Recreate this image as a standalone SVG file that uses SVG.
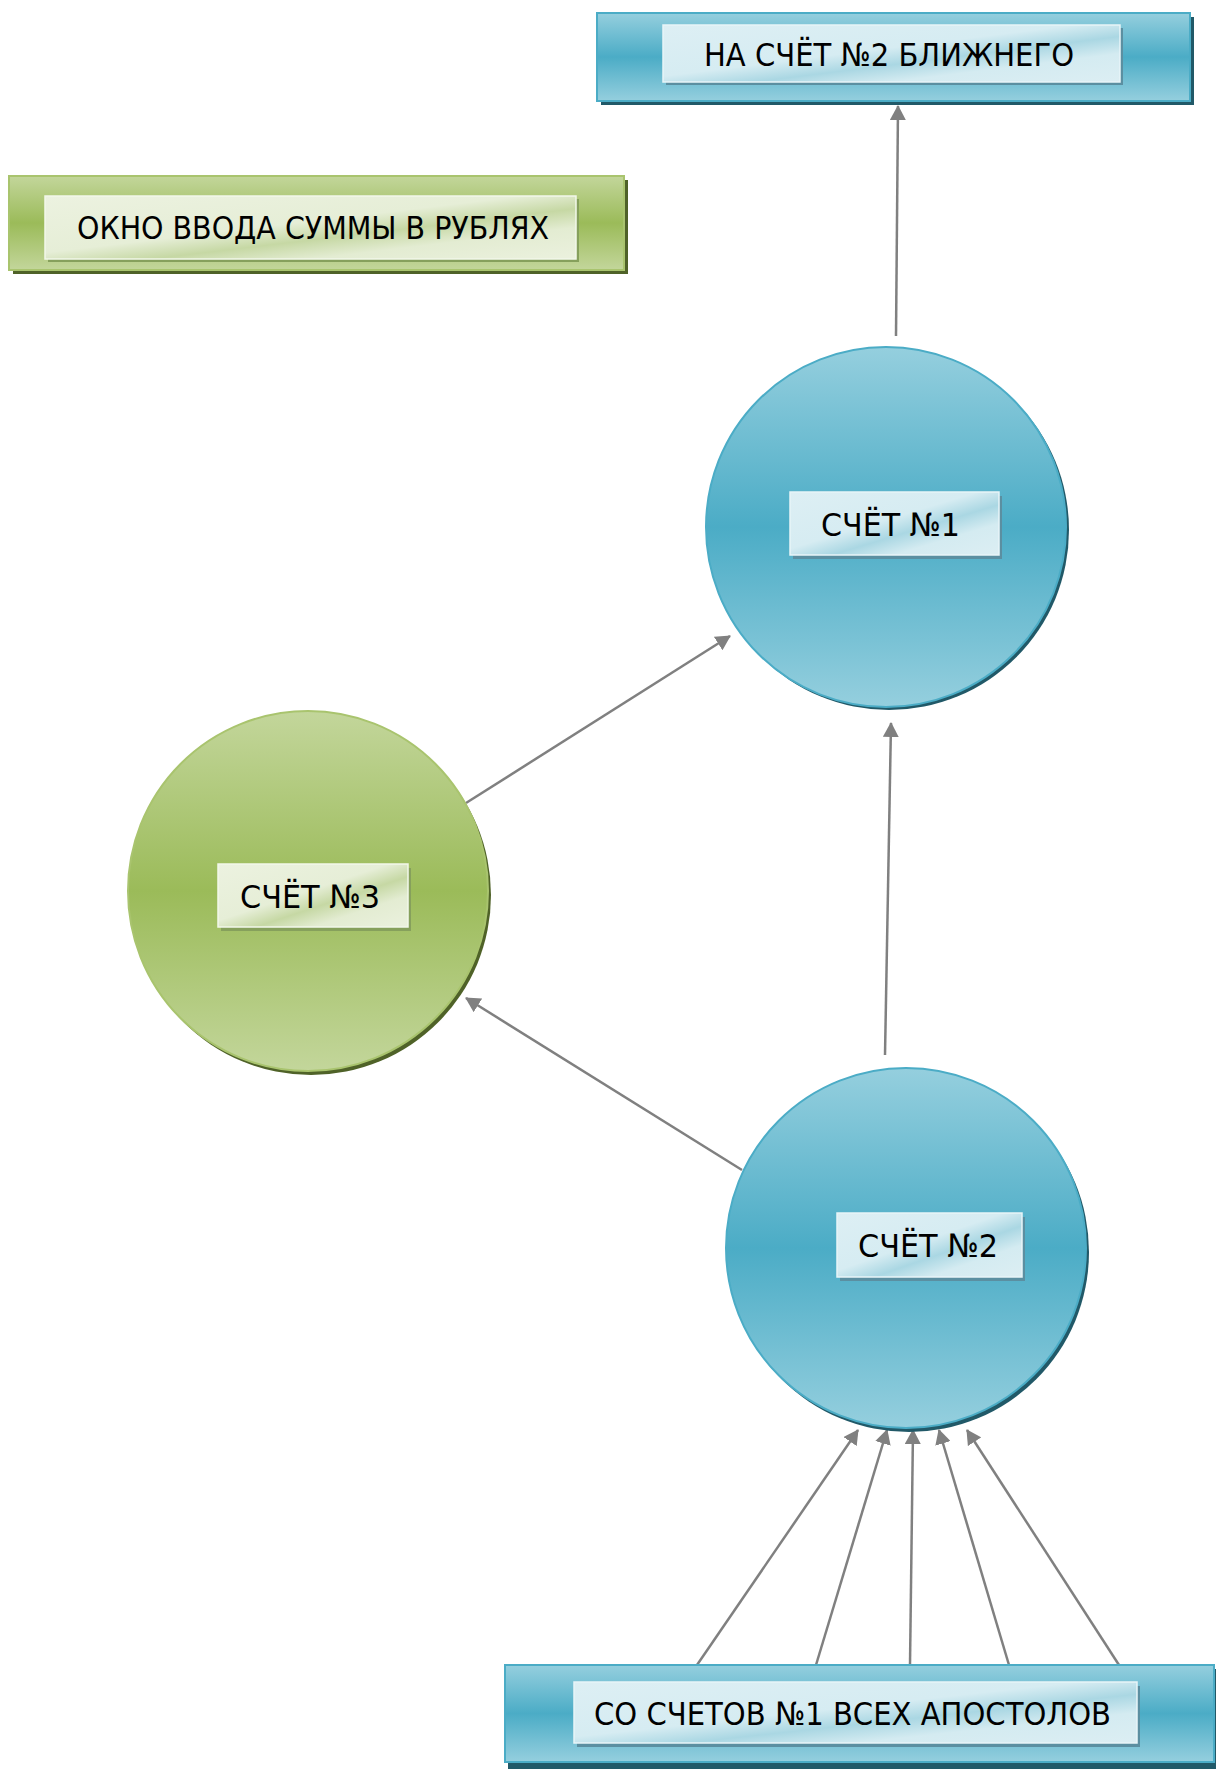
<svg xmlns="http://www.w3.org/2000/svg" width="1216" height="1769" viewBox="0 0 1216 1769">
<defs>
<linearGradient id="blueV" x1="0" y1="0" x2="0" y2="1">
<stop offset="0" stop-color="#95CFDE"/><stop offset="0.5" stop-color="#4BACC6"/><stop offset="1" stop-color="#95CFDE"/>
</linearGradient>
<linearGradient id="greenV" x1="0" y1="0" x2="0" y2="1">
<stop offset="0" stop-color="#C3D69B"/><stop offset="0.5" stop-color="#9BBB59"/><stop offset="1" stop-color="#C3D69B"/>
</linearGradient>
<linearGradient id="blueIn" x1="0" y1="0" x2="1" y2="1">
<stop offset="0" stop-color="#DDEFF4"/><stop offset="0.45" stop-color="#D6ECF2"/><stop offset="0.6" stop-color="#AAD7E3"/><stop offset="0.75" stop-color="#D4EBF1"/><stop offset="1" stop-color="#DCEEF3"/>
</linearGradient>
<linearGradient id="greenIn" x1="0" y1="0" x2="1" y2="1">
<stop offset="0" stop-color="#ECF2E0"/><stop offset="0.45" stop-color="#E6EED7"/><stop offset="0.6" stop-color="#C6D8A4"/><stop offset="0.75" stop-color="#E3ECD2"/><stop offset="1" stop-color="#EBF1DE"/>
</linearGradient>
<marker id="arr" viewBox="0 0 15 16" refX="14" refY="8" markerWidth="15" markerHeight="16" markerUnits="userSpaceOnUse" orient="auto">
<path d="M0,0 L15,8 L0,16 Z" fill="#808080"/>
</marker>
</defs>
<style>
.lbl{font-family:"DejaVu Sans Condensed","DejaVu Sans","Liberation Sans",sans-serif;font-size:32px;fill:#000;text-anchor:start}
.conn{stroke:#808080;stroke-width:2.5;fill:none;marker-end:url(#arr)}
.bOut{fill:url(#blueV);stroke:#4BACC6;stroke-width:2}
.gOut{fill:url(#greenV);stroke:#A9C46E;stroke-width:2}
.bIn{fill:url(#blueIn);stroke:#E8F5F8;stroke-width:1.5}
.gIn{fill:url(#greenIn);stroke:#F2F7EA;stroke-width:1.5}
.bSh{fill:#215968}
.gSh{fill:#4F6228}
.bInSh{fill:#5B8FA1}
.gInSh{fill:#86A05C}
</style>

<g id="connectors">
<line class="conn" x1="896" y1="336" x2="898" y2="106"/>
<line class="conn" x1="466" y1="803" x2="730" y2="636"/>
<line class="conn" x1="885" y1="1055" x2="891" y2="723"/>
<line class="conn" x1="742" y1="1170" x2="466" y2="998"/>
<line class="conn" x1="697" y1="1665" x2="858" y2="1430"/>
<line class="conn" x1="816" y1="1665" x2="887" y2="1430"/>
<line class="conn" x1="910" y1="1665" x2="913" y2="1430"/>
<line class="conn" x1="1009" y1="1665" x2="939" y2="1430"/>
<line class="conn" x1="1119" y1="1665" x2="967" y2="1430"/>
</g>

<g id="node-top">
<rect class="bSh" x="601" y="17" width="593" height="88"/>
<rect class="bOut" x="597" y="13" width="593" height="88"/>
<rect class="bInSh" x="666" y="28" width="457" height="57"/>
<rect class="bIn" x="663" y="25" width="457" height="57"/>
<text class="lbl" x="704" y="66" textLength="370" lengthAdjust="spacingAndGlyphs">НА СЧЁТ №2 БЛИЖНЕГО</text>
</g>

<g id="node-input">
<rect class="gSh" x="13" y="180" width="615" height="94"/>
<rect class="gOut" x="9" y="176" width="615" height="94"/>
<rect class="gInSh" x="48" y="199" width="531" height="63"/>
<rect class="gIn" x="45" y="196" width="531" height="63"/>
<text class="lbl" x="77" y="239" textLength="472" lengthAdjust="spacingAndGlyphs">ОКНО ВВОДА СУММЫ В РУБЛЯХ</text>
</g>

<g id="node-acc1">
<circle class="bSh" cx="889" cy="530" r="180"/>
<circle class="bOut" cx="886" cy="527" r="180"/>
<rect class="bInSh" x="793" y="496" width="209" height="63"/>
<rect class="bIn" x="790" y="492" width="209" height="63"/>
<text class="lbl" x="821" y="536" textLength="139" lengthAdjust="spacingAndGlyphs">СЧЁТ №1</text>
</g>

<g id="node-acc3">
<circle class="gSh" cx="311" cy="895" r="180"/>
<circle class="gOut" cx="308" cy="891" r="180"/>
<rect class="gInSh" x="221" y="868" width="190" height="63"/>
<rect class="gIn" x="218" y="864" width="190" height="63"/>
<text class="lbl" x="240" y="908" textLength="140" lengthAdjust="spacingAndGlyphs">СЧЁТ №3</text>
</g>

<g id="node-acc2">
<circle class="bSh" cx="909" cy="1252" r="180"/>
<circle class="bOut" cx="906" cy="1248" r="180"/>
<rect class="bInSh" x="840" y="1217" width="185" height="64"/>
<rect class="bIn" x="837" y="1213" width="185" height="64"/>
<text class="lbl" x="858" y="1257" textLength="140" lengthAdjust="spacingAndGlyphs">СЧЁТ №2</text>
</g>

<g id="node-bottom">
<rect class="bSh" x="508" y="1669" width="712" height="100"/>
<rect class="bOut" x="505" y="1665" width="709" height="97"/>
<rect class="bInSh" x="577" y="1686" width="563" height="61"/>
<rect class="bIn" x="574" y="1682" width="563" height="61"/>
<text class="lbl" x="594" y="1725" textLength="517" lengthAdjust="spacingAndGlyphs">СО СЧЕТОВ №1 ВСЕХ АПОСТОЛОВ</text>
</g>
</svg>
